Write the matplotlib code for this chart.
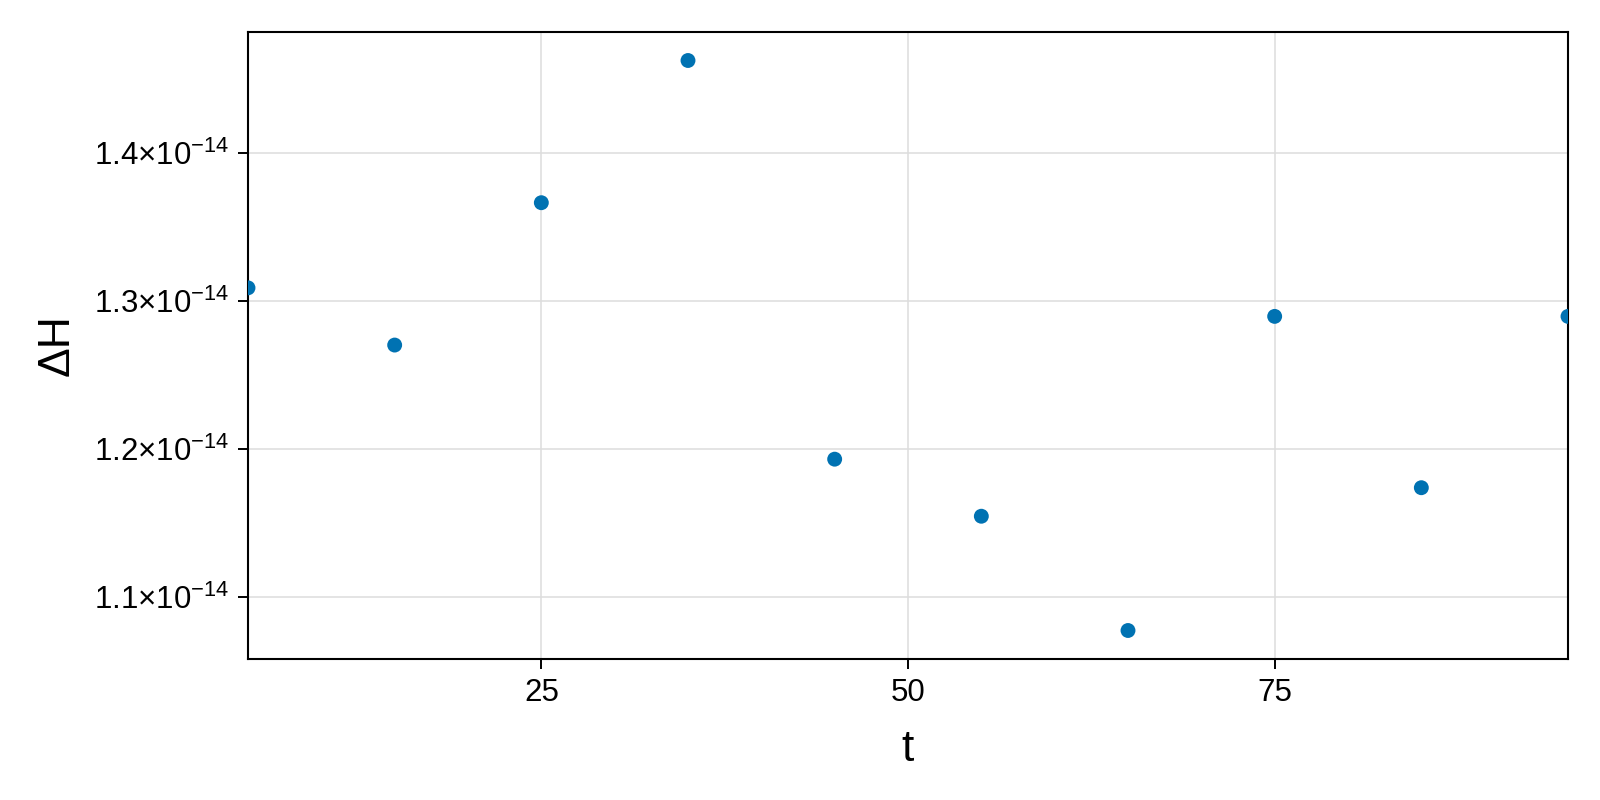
import numpy as np
import matplotlib
matplotlib.use("Agg")
import matplotlib.pyplot as plt
from matplotlib.ticker import FixedLocator, FuncFormatter

plt.rcParams['font.family'] = ['Liberation Sans', 'DejaVu Sans']
plt.rcParams['mathtext.fontset'] = 'custom'
plt.rcParams['mathtext.rm'] = 'Liberation Sans'
plt.rcParams['mathtext.default'] = 'regular'

# data
t = [5, 15, 25, 35, 45, 55, 65, 75, 85, 95]
dH = [1.309e-14, 1.2703e-14, 1.3666e-14, 1.4628e-14, 1.1931e-14,
      1.1545e-14, 1.0772e-14, 1.2897e-14, 1.1738e-14, 1.2897e-14]

x_ticks = [25, 50, 75]
y_ticks = [1.1e-14, 1.2e-14, 1.3e-14, 1.4e-14]

fig = plt.figure(figsize=(16, 8), dpi=100)
ax = fig.add_axes([0.155, 0.17625, 0.825, 0.78375])

ax.scatter(t, dH, s=115, color='#0072B2', edgecolors='none', zorder=3)

ax.set_xlim(min(t), max(t))
span = max(dH) - min(dH)
ax.set_ylim(min(dH) - 0.05 * span, max(dH) + 0.05 * span)

ax.xaxis.set_major_locator(FixedLocator(x_ticks))
ax.yaxis.set_major_locator(FixedLocator(y_ticks))
ax.yaxis.set_major_formatter(FuncFormatter(lambda v, p: f"{v * 1e14:.1f}×10$^{{-14}}$"))

ax.grid(True, color='#dddddd', linewidth=1.1, zorder=0)
ax.set_axisbelow(True)
for s in ax.spines.values():
    s.set_linewidth(1.5)
    s.set_color('black')
ax.tick_params(direction='out', length=7.5, width=1.4, labelsize=22.5, pad=6)

ax.set_xlabel('t', fontsize=32, labelpad=15)
ax.set_ylabel('ΔH', fontsize=32, labelpad=12)

fig.savefig('out.png', dpi=100)
